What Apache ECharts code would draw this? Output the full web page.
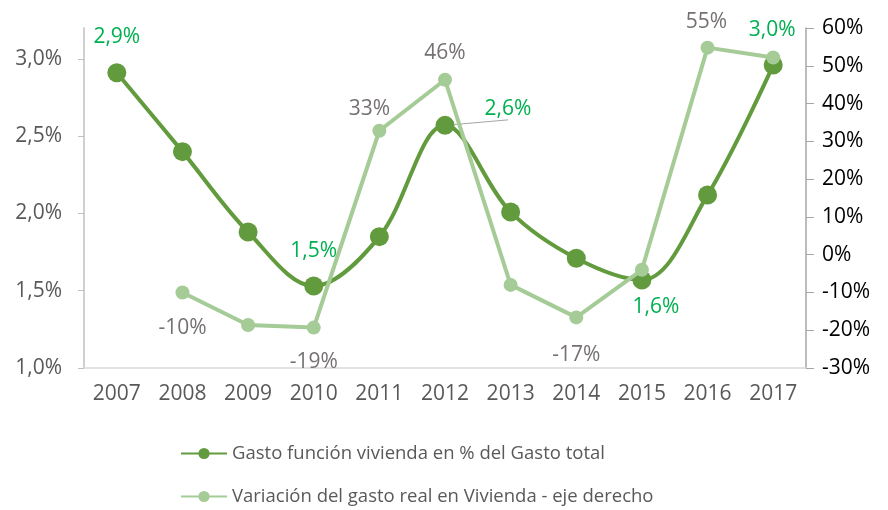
<!DOCTYPE html>
<html>
<head>
<meta charset="utf-8">
<script src="https://cdn.jsdelivr.net/npm/echarts@6/dist/echarts.min.js"></script>
<style>
  html, body { margin: 0; padding: 0; background: #fff; }
  #chart { width: 888px; height: 510px; }
</style>
</head>
<body>
<div id="chart"></div>
<script>
const years = ['2007', '2008', '2009', '2010', '2011', '2012', '2013', '2014', '2015', '2016', '2017'];
// % of total spending (left axis)
const gastoPct = [2.91, 2.40, 1.88, 1.53, 1.85, 2.57, 2.01, 1.71, 1.57, 2.12, 2.96];
// real spending variation, % (right axis)
const variacion = [null, -10.0, -18.6, -19.3, 32.8, 46.3, -8.0, -16.6, -4.0, 54.8, 52.2];

const nameDark = 'Gasto función vivienda en % del Gasto total';
const nameLight = 'Variación del gasto real en Vivienda - eje derecho';

const FONT = '"Open Sans", sans-serif';
const FS = 21;
const DARK = '#629B3D';
const LIGHT = '#A5CB96';

// which points carry a label, and where it sits relative to the point
const darkLabels = {
  0: [0, -36],
  3: [0, -35],
  5: [63, -16],
  8: [14, 27],
  10: [-1, -35]
};
const lightLabels = {
  1: [0, 36],
  3: [0, 34],
  4: [-10, -22],
  5: [0, -27],
  7: [0, 38],
  9: [-1, -26]
};

const fmtComma = v => v.toFixed(1).replace('.', ',') + '%';

const darkData = gastoPct.map((v, i) => {
  const off = darkLabels[i];
  if (!off) return v;
  const item = {
    value: v,
    label: {
      show: true, position: 'inside', offset: off,
      formatter: p => fmtComma(p.value),
      color: '#00B050', fontSize: FS, fontFamily: FONT
    }
  };
  if (i === 5) {
    item.labelLine = { show: true, lineStyle: { color: '#A6A6A6', width: 1 } };
  }
  return item;
});

const lightData = variacion.map((v, i) => {
  const off = lightLabels[i];
  if (!off) return v;
  return {
    value: v,
    label: {
      show: true, position: 'inside', offset: off,
      formatter: p => Math.round(p.value) + '%',
      color: '#767171', fontSize: FS, fontFamily: FONT
    }
  };
});

const legendBase = {
  left: 180,
  padding: 0,
  itemWidth: 46,
  itemHeight: 14,
  textStyle: { fontSize: 18.5, color: '#595959', fontFamily: FONT }
};

const chart = echarts.init(document.getElementById('chart'));
chart.setOption({
  animation: false,
  backgroundColor: '#fff',
  textStyle: { fontFamily: FONT },
  grid: { left: 84, right: 82, top: 28, bottom: 142 },
  legend: [
    { ...legendBase, top: 444, data: [nameDark] },
    { ...legendBase, top: 487, data: [nameLight] }
  ],
  xAxis: {
    type: 'category',
    data: years,
    boundaryGap: true,
    axisLine: { onZero: false, lineStyle: { color: '#D9D9D9', width: 1.5 } },
    axisTick: { show: false },
    axisLabel: { color: '#595959', fontSize: FS, margin: 16, fontFamily: FONT }
  },
  yAxis: [
    {
      type: 'value',
      min: 1,
      max: 3.2,
      interval: 0.5,
      splitLine: { show: false },
      axisLine: { show: true, lineStyle: { color: '#BFBFBF', width: 1.5 } },
      axisTick: { show: true, length: 6, lineStyle: { color: '#BFBFBF' } },
      axisLabel: {
        color: '#595959', fontSize: FS, margin: 22, fontFamily: FONT,
        showMaxLabel: false,
        formatter: v => fmtComma(v)
      }
    },
    {
      type: 'value',
      min: -30,
      max: 60,
      interval: 10,
      position: 'right',
      splitLine: { show: false },
      axisLine: { show: true, lineStyle: { color: '#A6A6A6', width: 1.5 } },
      axisTick: { show: true, length: 8, lineStyle: { color: '#A6A6A6' } },
      axisLabel: {
        color: '#000', fontSize: FS, margin: 16, fontFamily: FONT,
        formatter: v => v + '%'
      }
    }
  ],
  series: [
    {
      name: nameDark,
      type: 'line',
      yAxisIndex: 0,
      data: darkData,
      smooth: 0.35,
      symbol: 'circle',
      symbolSize: 19,
      lineStyle: { color: DARK, width: 4 },
      itemStyle: { color: DARK },
      z: 2
    },
    {
      name: nameLight,
      type: 'line',
      yAxisIndex: 1,
      data: lightData,
      symbol: 'circle',
      symbolSize: 14,
      lineStyle: { color: LIGHT, width: 4 },
      itemStyle: { color: LIGHT },
      z: 3
    }
  ]
});
</script>
</body>
</html>
